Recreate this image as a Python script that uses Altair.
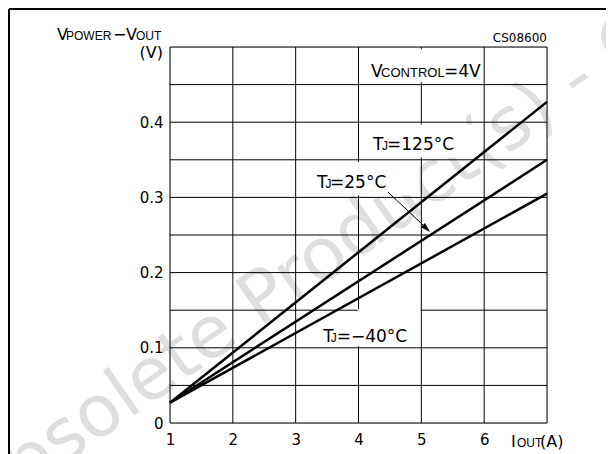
import altair as alt
import pandas as pd

FONT = "DejaVu Sans"
SMALL_FONT = "Liberation Sans"

# ---- data ----
iout = [1, 7]                       # I_OUT (A), straight lines
v_125 = [0.027, 0.427]              # TJ = 125 °C
v_25 = [0.027, 0.350]               # TJ = 25 °C
v_m40 = [0.027, 0.305]              # TJ = -40 °C

x_tick_values = [1, 2, 3, 4, 5, 6]
y_tick_values = [0, 0.1, 0.2, 0.3, 0.4]
grid_x = [1, 2, 3, 4, 5, 6, 7]
grid_y = [0, 0.05, 0.1, 0.15, 0.2, 0.25, 0.3, 0.35, 0.4, 0.45, 0.5]

rows = []
for name, vals in [("125", v_125), ("25", v_25), ("-40", v_m40)]:
    for xv, yv in zip(iout, vals):
        rows.append({"series": name, "iout": xv, "v": yv})
lines_df = pd.DataFrame(rows)

# label backgrounds (white boxes that interrupt the grid), in data units
boxes = pd.DataFrame({
    "x1": [4.03, 4.03, 3.03, 3.99],
    "x2": [5.97, 5.97, 4.97, 4.985],
    "y1": [0.453, 0.353, 0.303, 0.102],
    "y2": [0.497, 0.397, 0.347, 0.152],
})

xs = alt.Scale(domain=[1, 7], nice=False, zero=False)
ys = alt.Scale(domain=[0, 0.5], nice=False, zero=True)
xaxis = alt.Axis(values=x_tick_values, title=None, grid=False, domain=False, ticks=False,
                 labelFontSize=15, labelFont=FONT, labelColor="black", labelPadding=9,
                 labelAngle=0, labelFlush=False, zindex=2)
yaxis = alt.Axis(values=y_tick_values, title=None, grid=False, domain=False, ticks=False,
                 labelFontSize=15, labelFont=FONT, labelColor="black", labelPadding=7,
                 labelExpr="datum.value == 0 ? '0' : format(datum.value, '.1f')", zindex=2)


def X(field):
    return alt.X(field, type="quantitative", scale=xs, axis=xaxis)


def Y(field):
    return alt.Y(field, type="quantitative", scale=ys, axis=yaxis)


def dtext(txt, xv, yv, size, align="left", baseline="alphabetic", font=FONT):
    return alt.Chart(pd.DataFrame({"x": [xv], "y": [yv]})).mark_text(
        text=txt, align=align, baseline=baseline, fontSize=size, font=font, color="black"
    ).encode(x=X("x"), y=Y("y"))


def ptext(txt, px, py, size, align="left", baseline="alphabetic", color="black", angle=0,
          font=FONT):
    return alt.Chart(pd.DataFrame({"t": [txt]})).mark_text(
        text=txt, align=align, baseline=baseline, fontSize=size, font=font, color=color,
        angle=angle
    ).encode(x=alt.value(px), y=alt.value(py))


watermark = ptext("Obsolete Product(s) - Obsolete Product(s)", -192, 478, 72,
                  color="#dedede", angle=325)

vgrid = alt.Chart(pd.DataFrame({"gx": grid_x})).mark_rule(color="black", strokeWidth=1).encode(x=X("gx"))
hgrid = alt.Chart(pd.DataFrame({"gy": grid_y})).mark_rule(color="black", strokeWidth=1).encode(y=Y("gy"))

white = alt.Chart(boxes).mark_rect(fill="white").encode(x=X("x1"), x2="x2", y=Y("y1"), y2="y2")

curves = alt.Chart(lines_df).mark_line(color="black", strokeWidth=2.5).encode(
    x=X("iout"), y=Y("v"), detail="series:N"
)

arrow_df = pd.DataFrame({"x": [4.47], "y": [0.307], "x2": [5.12], "y2": [0.256]})
arrow_line = alt.Chart(arrow_df).mark_rule(color="black", strokeWidth=1).encode(
    x=X("x"), y=Y("y"), x2="x2", y2="y2")
arrow_head = alt.Chart(pd.DataFrame({"x": [5.14], "y": [0.254]})).mark_point(
    shape="M0,0 L-0.55,1.9 L0.55,1.9 Z", filled=True, color="black", opacity=1,
    size=110, angle=134
).encode(x=X("x"), y=Y("y"))

labels = [
    # V_CONTROL = 4V
    dtext("V", 4.199, 0.4605, 17), dtext("CONTROL", 4.36, 0.4605, 13, font=SMALL_FONT),
    dtext("=4V", 5.36, 0.4605, 17),
    # TJ = 125°C
    dtext("T", 4.231, 0.3634, 17), dtext("J", 4.374, 0.3634, 12, font=SMALL_FONT),
    dtext("=125°C", 4.454, 0.3634, 17),
    # TJ = 25°C
    dtext("T", 3.340, 0.3125, 17), dtext("J", 3.475, 0.3125, 12, font=SMALL_FONT),
    dtext("=25°C", 3.547, 0.3125, 17),
    # TJ = -40°C
    dtext("T", 3.440, 0.1072, 17), dtext("J", 3.558, 0.1072, 12, font=SMALL_FONT),
    dtext("=−40°C", 3.653, 0.1072, 17),
]

outer = [
    # y-axis title  V_POWER − V_OUT (V)
    ptext("V", -113, -7, 16), ptext("POWER", -104, -7, 12, font=SMALL_FONT),
    ptext("−", -57, -7, 16),
    ptext("V", -44, -7, 16), ptext("OUT", -34, -7, 12, font=SMALL_FONT),
    ptext("(V)", -7, 11, 16, align="right"),
    # x-axis title I_OUT(A)
    ptext("I", 341, 24 + 376, 16), ptext("OUT", 347, 24 + 376, 12, font=SMALL_FONT),
    ptext("(A)", 370, 24 + 376, 16),
    # figure code
    ptext("CS08600", 377, -5, 12, align="right"),
]

frame_top = alt.Chart(pd.DataFrame({"a": [0]})).mark_rule(color="black", strokeWidth=2).encode(
    x=alt.value(-161), x2=alt.value(440), y=alt.value(-38), y2=alt.value(-38))
frame_left = alt.Chart(pd.DataFrame({"a": [0]})).mark_rule(color="black", strokeWidth=2).encode(
    x=alt.value(-161), x2=alt.value(-161), y=alt.value(-38), y2=alt.value(420))

chart = alt.layer(
    watermark, vgrid, hgrid, white, curves, arrow_line, arrow_head, *labels, *outer,
    frame_top, frame_left
).properties(
    width=377, height=376,
    autosize="none",
    padding={"left": 162, "top": 39, "right": 59, "bottom": 31},
).configure_view(stroke=None).configure(background="white")

chart.save("out.html", embed_options={"renderer": "svg", "actions": False})
